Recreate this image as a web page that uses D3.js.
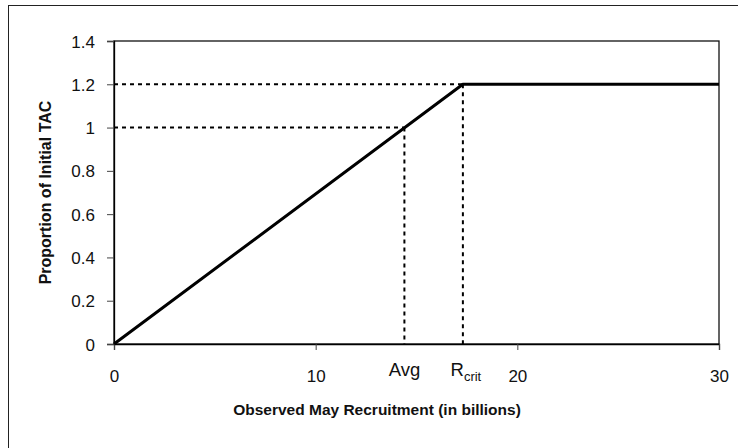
<!DOCTYPE html>
<html><head><meta charset="utf-8">
<script src="https://cdn.jsdelivr.net/npm/d3@7"></script>
<style>body{margin:0;background:#fff}svg{display:block;font-family:"Liberation Sans",Arial,sans-serif}</style>
</head><body><svg id="c" width="738" height="448"></svg>
<script>
const recruitX = [0, 17.3, 30];
const tacY = [0, 1.2, 1.2];
const refX = [14.4, 17.3];
const refY = [1.0, 1.2];
const refLabels = ["Avg", "R"];
const xTicks = [0, 10, 20, 30];
const yTicks = [0, 0.2, 0.4, 0.6, 0.8, 1, 1.2, 1.4];

const svg = d3.select("#c");
const m = {l:114, t:41, r:719, b:344};
const x = d3.scaleLinear().domain([0,30]).range([m.l, m.r]);
const y = d3.scaleLinear().domain([0,1.4]).range([m.b, m.t]);

svg.append("rect").attr("x",8.5).attr("y",5.5).attr("width",740).attr("height",450)
  .attr("fill","none").attr("stroke","#222").attr("stroke-width",1);

svg.append("rect").attr("x",m.l).attr("y",m.t).attr("width",m.r-m.l).attr("height",m.b-m.t)
  .attr("fill","none").attr("stroke","#111").attr("stroke-width",1.3);

// reference dotted lines
refX.forEach((rx,i)=>{
  const g = svg.append("g").attr("stroke","#000").attr("stroke-width",2).attr("stroke-dasharray","4,4").attr("fill","none");
  g.append("line").attr("x1",x(0)).attr("x2",x(rx)).attr("y1",y(refY[i])).attr("y2",y(refY[i]));
  g.append("line").attr("x1",x(rx)).attr("x2",x(rx)).attr("y1",y(refY[i])).attr("y2",y(0));
});

const yAxis = svg.append("g").attr("transform",`translate(${m.l},0)`)
  .call(d3.axisLeft(y).tickValues(yTicks).tickFormat(d=>d3.format("~g")(d)).tickSize(7).tickPadding(12));
const xAxis = svg.append("g").attr("transform",`translate(0,${m.b})`)
  .call(d3.axisBottom(x).tickValues(xTicks).tickSize(6).tickPadding(20));
[yAxis,xAxis].forEach(a=>{
  a.select(".domain").attr("stroke","#000").attr("stroke-width",1.3);
  a.selectAll(".tick line").attr("stroke","#444");
  a.selectAll("text").attr("font-size",17).attr("fill","#111").attr("font-family","Liberation Sans, Arial, sans-serif");
});
yAxis.selectAll("text").attr("dy","0.36em");

// main line
svg.append("path").datum(recruitX.map((d,i)=>[d,tacY[i]]))
  .attr("d", d3.line().x(d=>x(d[0])).y(d=>y(d[1])))
  .attr("fill","none").attr("stroke","#000").attr("stroke-width",3).attr("stroke-linejoin","round");

// reference labels
const t0 = svg.append("text").attr("x",x(refX[0])).attr("y",376).attr("text-anchor","middle")
  .attr("font-size",18.5).attr("fill","#111").text(refLabels[0]);
const t1 = svg.append("text").attr("x",x(refX[1])+3).attr("y",376).attr("text-anchor","middle")
  .attr("font-size",18.5).attr("fill","#111");
t1.append("tspan").text(refLabels[1]);
t1.append("tspan").attr("font-size",13).attr("dy",5).text("crit");

svg.append("text").attr("x",377).attr("y",415).attr("text-anchor","middle")
  .attr("font-size",15.5).attr("font-weight","bold").attr("fill","#111")
  .text("Observed May Recruitment (in billions)");
svg.append("text").attr("transform",`translate(51,${(m.t+m.b)/2}) rotate(-90)`).attr("text-anchor","middle")
  .attr("font-size",16).attr("font-weight","bold").attr("fill","#111")
  .text("Proportion of Initial TAC");
</script></body></html>
